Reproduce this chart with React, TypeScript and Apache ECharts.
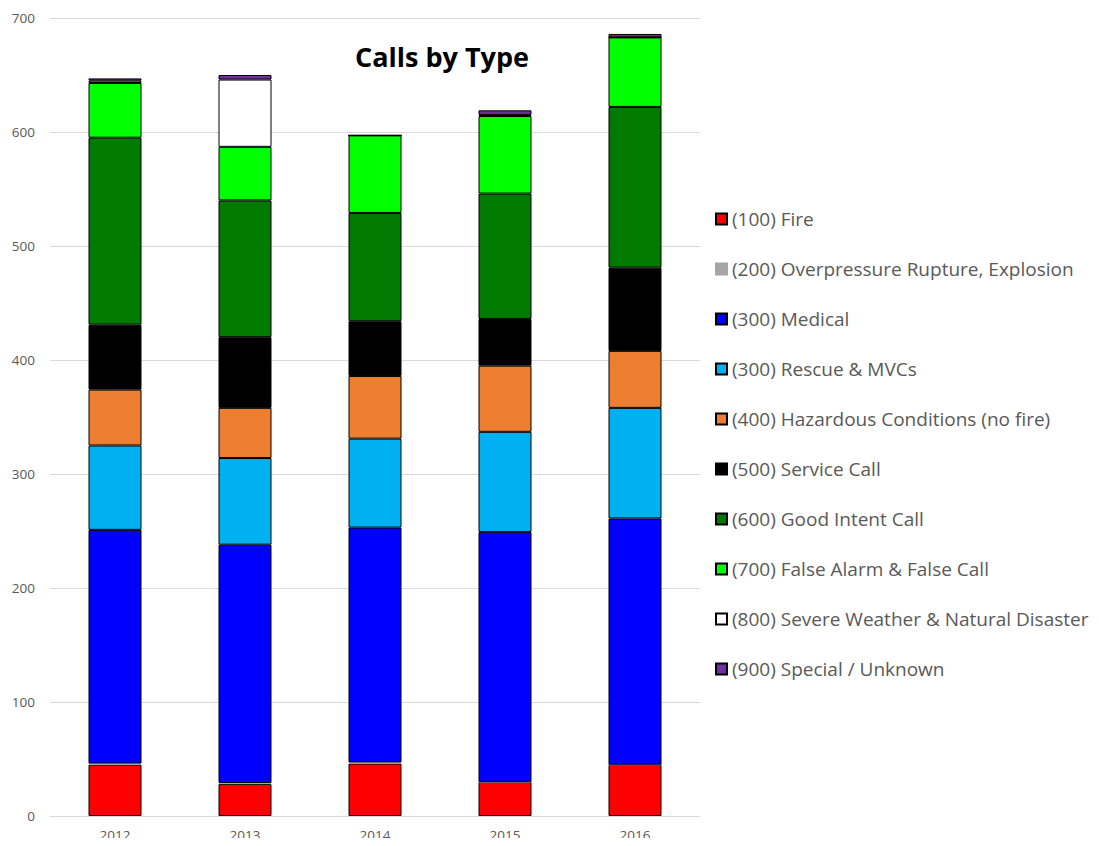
import React, { useEffect, useRef } from "react";
import * as echarts from "echarts";

const years = ["2012", "2013", "2014", "2015", "2016"];
const seriesNames = [
  "(100) Fire",
  "(200) Overpressure Rupture, Explosion",
  "(300) Medical",
  "(300) Rescue & MVCs",
  "(400) Hazardous Conditions (no fire)",
  "(500) Service Call",
  "(600) Good Intent Call",
  "(700) False Alarm & False Call",
  "(800) Severe Weather & Natural Disaster",
  "(900) Special / Unknown",
];
const fire = [45, 28, 46, 30, 45];
const overpressure = [1, 1, 1, 0, 0];
const medical = [205, 209, 206, 219, 216];
const rescue = [74, 76, 78, 88, 97];
const hazardous = [49, 44, 55, 58, 50];
const service = [57, 62, 48, 41, 73];
const goodIntent = [164, 120, 95, 110, 141];
const falseAlarm = [48, 47, 68, 68, 61];
const severe = [2, 59, 0, 1, 0];
const special = [2, 4, 0, 4, 3];
const seriesData = [fire, overpressure, medical, rescue, hazardous, service, goodIntent, falseAlarm, severe, special];
const colors = ["#FF0000", "#A5A5A5", "#0000FF", "#00B0F0", "#ED7D31", "#000000", "#007A00", "#00FF00", "#FFFFFF", "#7030A0"];
const yTicks = [0, 100, 200, 300, 400, 500, 600, 700];

export default function App() {
  const ref = useRef<HTMLDivElement>(null);
  useEffect(() => {
    if (!ref.current) return;
    const chart = echarts.init(ref.current, undefined, { renderer: "svg" });
    chart.setOption({
      animation: false,
      backgroundColor: "#FFFFFF",
      title: {
        text: "Calls by Type",
        left: 350,
        top: 38,
        textStyle: { fontFamily: "Open Sans", fontWeight: "bold", fontSize: 27, color: "#000000" },
      },
      legend: {
        orient: "vertical",
        left: 710,
        top: 204,
        itemWidth: 11,
        itemHeight: 11,
        itemGap: 30,
        icon: "rect",
        data: seriesNames,
        textStyle: { fontFamily: "Open Sans", fontSize: 19, lineHeight: 20, color: "#595959" },
      },
      grid: { left: 50, right: 399, top: 18, bottom: 30 },
      xAxis: {
        type: "category",
        data: years,
        axisTick: { show: false },
        axisLine: { lineStyle: { color: "#D9D9D9" } },
        axisLabel: { color: "#595959", fontFamily: "Open Sans", fontSize: 13.5, margin: 12 },
      },
      yAxis: {
        type: "value",
        min: yTicks[0],
        max: yTicks[yTicks.length - 1],
        interval: 100,
        axisLabel: { color: "#595959", fontFamily: "Open Sans", fontSize: 13.5, margin: 15 },
        splitLine: { lineStyle: { color: "#D9D9D9" } },
        axisLine: { show: false },
        axisTick: { show: false },
      },
      series: seriesNames.map((name, i) => ({
        name,
        type: "bar",
        stack: "total",
        barWidth: 53,
        data: seriesData[i],
        itemStyle: {
          color: colors[i],
          borderColor: i === 1 ? "#A5A5A5" : "#000000",
          borderWidth: 1,
        },
      })),
    });
    return () => chart.dispose();
  }, []);
  return <div ref={ref} style={{ width: 1099, height: 846, margin: -8 }} />;
}
